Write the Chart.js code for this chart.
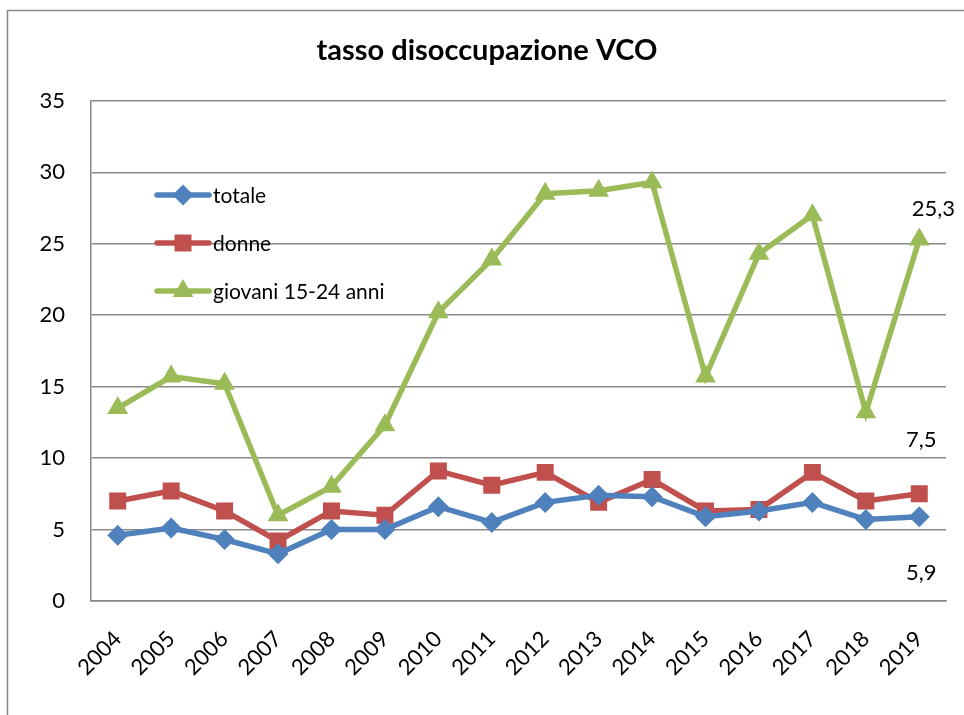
<!DOCTYPE html>
<html>
<head>
<meta charset="utf-8">
<script src="https://cdn.jsdelivr.net/npm/chart.js@4.4.0/dist/chart.umd.min.js"></script>
<style>
  html, body { margin: 0; padding: 0; background: #fff; }
  #wrap { width: 964px; height: 715px; }
</style>
</head>
<body>
<div id="wrap"><canvas id="chart" width="964" height="715"></canvas></div>
<script>
const years = ['2004', '2005', '2006', '2007', '2008', '2009', '2010', '2011',
               '2012', '2013', '2014', '2015', '2016', '2017', '2018', '2019'];
const totale  = [4.6, 5.1, 4.3, 3.3, 5.0, 5.0, 6.6, 5.5, 6.9, 7.4, 7.3, 5.9, 6.3, 6.9, 5.7, 5.9];
const donne   = [7.0, 7.7, 6.3, 4.2, 6.3, 6.0, 9.1, 8.1, 9.0, 6.9, 8.5, 6.3, 6.4, 9.0, 7.0, 7.5];
const giovani = [13.5, 15.7, 15.2, 6.0, 8.0, 12.3, 20.2, 23.9, 28.5, 28.7, 29.3, 15.7, 24.3, 27.0, 13.2, 25.3];
const yTicks  = [0, 5, 10, 15, 20, 25, 30, 35];

const FONT = 'Lato, "Liberation Sans", sans-serif';

// frame round the whole chart
const frame = {
  id: 'frame',
  beforeDraw(chart) {
    const ctx = chart.ctx;
    ctx.save();
    ctx.strokeStyle = '#878787';
    ctx.lineWidth = 1.5;
    ctx.strokeRect(7.5, 10.5, chart.width + 20, chart.height + 20);
    ctx.restore();
  }
};

// legend inside the plot area
const innerLegend = {
  id: 'innerLegend',
  afterDatasetsDraw(chart) {
    const ctx = chart.ctx;
    ctx.save();
    chart.data.datasets.forEach((ds, i) => {
      const y = 195 + i * 48;
      ctx.strokeStyle = ds.borderColor;
      ctx.lineWidth = 5.5;
      ctx.lineCap = 'round';
      ctx.beginPath();
      ctx.moveTo(157, y);
      ctx.lineTo(209, y);
      ctx.stroke();
      ctx.fillStyle = ds.backgroundColor;
      Chart.helpers.drawPoint(ctx, {
        pointStyle: ds.pointStyle, radius: ds.pointRadius, borderWidth: 0, rotation: 0
      }, 183, y);
      ctx.fillStyle = '#000';
      ctx.font = '21px ' + FONT;
      ctx.textAlign = 'left';
      ctx.textBaseline = 'middle';
      ctx.fillText(ds.label, 213, y + 1);
    });
    ctx.restore();
  }
};

// value of the last point of each series
const labelShift = [[2, 56], [2, -54], [14, -31]];
const lastLabels = {
  id: 'lastLabels',
  afterDatasetsDraw(chart) {
    const ctx = chart.ctx;
    ctx.save();
    ctx.fillStyle = '#000';
    ctx.font = '22px ' + FONT;
    ctx.textAlign = 'center';
    ctx.textBaseline = 'middle';
    chart.data.datasets.forEach((ds, i) => {
      const meta = chart.getDatasetMeta(i);
      const pt = meta.data[meta.data.length - 1];
      const v = ds.data[ds.data.length - 1];
      ctx.fillText(v.toLocaleString('it-IT'), pt.x + labelShift[i][0], pt.y + labelShift[i][1]);
    });
    ctx.restore();
  }
};

function series(label, data, color, style, r) {
  return {
    label: label,
    data: data,
    borderColor: color,
    backgroundColor: color,
    borderWidth: 5.5,
    pointStyle: style,
    pointRadius: r,
    pointHoverRadius: r,
    pointBorderWidth: 0,
    tension: 0
  };
}

new Chart(document.getElementById('chart'), {
  type: 'line',
  data: {
    labels: years,
    datasets: [
      series('totale', totale, '#4F81BD', 'rectRot', 10.5),
      series('donne', donne, '#C0504D', 'rect', 12),
      series('giovani 15-24 anni', giovani, '#9BBB59', 'triangle', 12)
    ]
  },
  options: {
    responsive: false,
    animation: false,
    layout: { padding: { left: 28, right: 18, top: 0, bottom: 0 } },
    plugins: {
      legend: { display: false },
      tooltip: { enabled: false },
      title: {
        display: true,
        text: 'tasso disoccupazione VCO',
        color: '#000',
        font: { family: FONT, size: 29, weight: 'bold' },
        padding: { top: 33, bottom: 33 }
      }
    },
    scales: {
      x: {
        offset: true,
        grid: { display: false, drawTicks: false },
        border: { color: '#878787', width: 1.5 },
        ticks: {
          color: '#000',
          font: { family: FONT, size: 22 },
          minRotation: 45,
          maxRotation: 45,
          padding: 25
        },
        afterFit(scale) { scale.height = 114; }
      },
      y: {
        min: 0,
        max: 35,
        afterBuildTicks(scale) { scale.ticks = yTicks.map(v => ({ value: v })); },
        grid: { color: '#8a8a8a', lineWidth: 1.5, drawTicks: false },
        border: { color: '#878787', width: 1.5 },
        ticks: {
          color: '#000',
          font: { family: FONT, size: 22 },
          padding: 26
        },
        afterFit(scale) { scale.width = 63; }
      }
    }
  },
  plugins: [frame, innerLegend, lastLabels]
});
</script>
</body>
</html>
